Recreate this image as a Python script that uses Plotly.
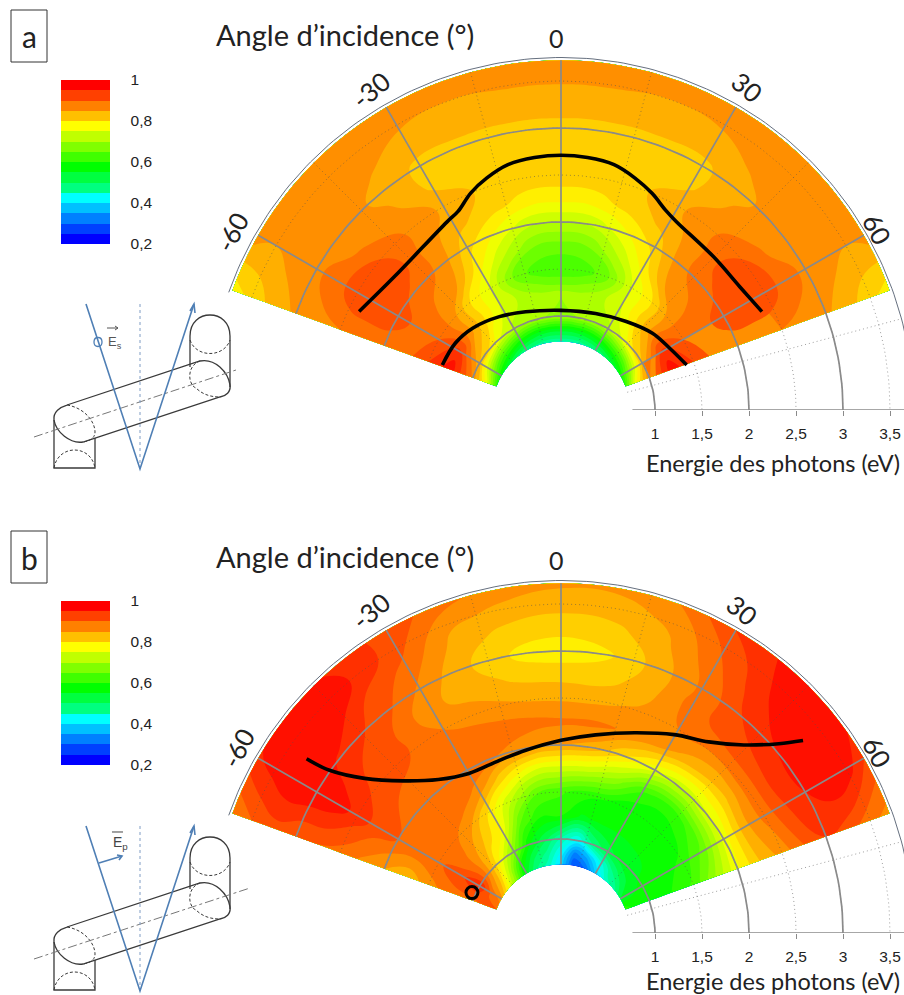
import numpy as np
import plotly.graph_objects as go

# ---------- data ----------
ENERGY = [0.73, 0.85, 1.0, 1.25, 1.5, 1.75, 2.0, 2.25, 2.5, 2.75, 3.0, 3.25, 3.5, 3.72]
ANGLE = [-70, -60, -50, -40, -30, -20, -10, 0, 10, 20, 30, 40, 50, 60, 70]

# rows follow ENERGY, columns follow ANGLE
Z_A = [
    [.62, .58, .55, .52, .50, .49, .48, .48, .48, .49, .50, .52, .55, .58, .62],
    [.77, .70, .65, .62, .59, .57, .56, .56, .56, .57, .59, .62, .65, .70, .77],
    [.87, .83, .80, .75, .72, .70, .70, .70, .70, .70, .72, .75, .80, .83, .87],
    [.965, .935, .86, .80, .745, .72, .705, .70, .705, .72, .745, .80, .86, .935, .965],
    [.925, .90, .865, .80, .75, .675, .635, .625, .635, .675, .75, .80, .865, .90, .925],
    [.89, .89, .875, .855, .785, .725, .675, .665, .675, .725, .785, .855, .875, .89, .89],
    [.885, .915, .89, .87, .81, .77, .73, .725, .73, .77, .81, .87, .89, .915, .885],
    [.88, .925, .915, .865, .835, .81, .79, .785, .79, .81, .835, .865, .915, .925, .88],
    [.875, .92, .90, .87, .845, .82, .815, .815, .815, .82, .845, .87, .90, .92, .875],
    [.87, .885, .87, .855, .82, .82, .82, .82, .82, .82, .82, .855, .87, .885, .87],
    [.855, .87, .87, .84, .82, .82, .82, .82, .82, .82, .82, .84, .87, .87, .855],
    [.835, .86, .875, .855, .835, .833, .832, .832, .832, .833, .835, .855, .875, .86, .835],
    [.81, .85, .875, .87, .855, .85, .853, .853, .853, .85, .855, .87, .875, .85, .81],
    [.785, .865, .875, .875, .87, .868, .868, .868, .868, .868, .87, .875, .875, .865, .785],
]
Z_B = [
    [.90, .86, .78, .68, .56, .50, .46, .39, .28, .30, .38, .46, .49, .55, .62],
    [.915, .89, .83, .72, .60, .53, .49, .42, .31, .36, .44, .50, .54, .57, .59],
    [.89, .95, .86, .77, .68, .58, .53, .47, .42, .50, .54, .56, .57, .58, .585],
    [.89, .915, .87, .82, .77, .65, .60, .60, .57, .58, .58, .58, .58, .585, .60],
    [.865, .895, .885, .855, .79, .72, .65, .63, .61, .60, .58, .58, .585, .61, .63],
    [.83, .895, .895, .895, .865, .80, .75, .74, .73, .70, .63, .61, .63, .66, .70],
    [.85, .90, .90, .90, .895, .875, .86, .85, .84, .80, .755, .73, .745, .76, .77],
    [.87, .915, .90, .90, .895, .89, .885, .88, .88, .87, .85, .825, .82, .84, .825],
    [.89, .94, .915, .90, .875, .86, .85, .845, .845, .855, .875, .875, .885, .885, .86],
    [.90, .965, .925, .90, .855, .84, .82, .815, .815, .84, .885, .915, .925, .925, .90],
    [.90, .975, .94, .915, .87, .83, .797, .785, .797, .835, .88, .925, .95, .95, .925],
    [.915, .975, .975, .925, .89, .84, .815, .81, .815, .845, .89, .94, .975, .975, .915],
    [.90, .96, .975, .95, .91, .855, .845, .835, .84, .855, .905, .95, .975, .965, .885],
    [.875, .945, .975, .94, .915, .885, .86, .855, .855, .875, .925, .955, .975, .925, .865],
]

CURVE_A1_ANGLE = [-64.0, -51.3, -31.2, -27.4, -22.6, -17.8, -12.2, -6, 0, 6, 12.2, 17.7, 22.8, 27.6, 31.5, 44.9, 55.4, 63.9]
CURVE_A1_E = [2.39, 2.27, 2.34, 2.38, 2.50, 2.59, 2.67, 2.70, 2.71, 2.70, 2.67, 2.59, 2.50, 2.40, 2.35, 2.30, 2.31, 2.38]
CURVE_A2_ANGLE = [-69.2, -57.6, -47, -33.4, -19.8, 0, 19.7, 36.4, 50, 60.4, 70.3]
CURVE_A2_E = [1.35, 1.33, 1.28, 1.19, 1.11, 1.06, 1.09, 1.17, 1.27, 1.33, 1.42]
CURVE_B_ANGLE = [-55.6, -54.9, -51.8, -46, -38.6, -30, -19.6, -10.9, 0, 9.9, 20.2, 29.7, 37.7, 44.2, 49, 51.5]
CURVE_B_E = [3.28, 3.01, 2.66, 2.33, 2.09, 1.96, 1.95, 1.98, 2.05, 2.14, 2.27, 2.43, 2.57, 2.79, 3.07, 3.29]
POINT_B_ANGLE = [-65.6]
POINT_B_E = [1.04]

BAR_TICKS = [0.2, 0.4, 0.6, 0.8, 1]
BAR_COLORS = ["#0000FF", "#0040FF", "#0080FF", "#00C0FF", "#00FFFF", "#00FF80", "#00FF40", "#00FF00",
              "#40FF00", "#80FF00", "#C0FF00", "#FFFF00", "#FFC000", "#FF8000", "#FF4000", "#FF0000"]
FILL_STOPS = [(.1875, "#0000FF"), (.21, "#0000FF"), (.42, "#00FFFF"), (.58, "#00FF00"),
              (.775, "#FFFF00"), (.975, "#FF0000"), (1.0125, "#FF0000")]
E_TICKS = [1, 1.5, 2, 2.5, 3, 3.5]
E_TICKTEXT = ["1", "1,5", "2", "2,5", "3", "3,5"]
ANGLE_LABELS = ["-60", "-30", "0", "30", "60"]

# ---------- page geometry ----------
W, H = 904, 995
PX_PER_EV = 94.0
CX = 561.0
CY_A, CY_B = 410.0, 933.0
TOP_B = 497.0
R_OUT = 3.75


def px(x, y):
    return x / W, 1 - y / H


def polar(angle, e):
    t = np.radians(np.asarray(angle, float))
    return np.asarray(e, float) * np.sin(t), np.asarray(e, float) * np.cos(t)


fig = go.Figure()
xr = [-CX / PX_PER_EV, (W - CX) / PX_PER_EV]
grid_a, grid_e = np.meshgrid(ANGLE, ENERGY)
GX, GY = polar(grid_a, grid_e)
fill_scale = [[(z - .1875) / .825, c] for z, c in FILL_STOPS]


def panel(idx, z, xa, ya):
    cid = "carpet" + idx
    fig.add_trace(go.Carpet(
        carpet=cid, a=ANGLE, b=ENERGY, x=GX.tolist(), y=GY.tolist(), xaxis=xa, yaxis=ya,
        aaxis=dict(showgrid=False, showticklabels="none", startline=False, endline=False, minorgridcount=0, smoothing=1),
        baxis=dict(showgrid=False, showticklabels="none", startline=False, endline=False, minorgridcount=0, smoothing=1),
    ))
    fig.add_trace(go.Contourcarpet(
        carpet=cid, a=ANGLE, b=ENERGY, z=z, xaxis=xa, yaxis=ya,
        autocontour=False, contours=dict(start=.2, end=1, size=.025, coloring="fill", showlines=False),
        line=dict(width=0, smoothing=1.3), colorscale=fill_scale, showscale=False,
    ))

    def line(x, y, **kw):
        fig.add_trace(go.Scatter(x=x, y=y, mode="lines", xaxis=xa, yaxis=ya, showlegend=False,
                                 hoverinfo="skip", line=kw))
    # dotted grid
    dot = dict(color="rgba(80,80,80,.55)", width=1, dash="1px,3px")
    for e in [1.5, 2.5, 3.5, 1, 2, 3]:
        th = np.linspace(-70, 90, 120)
        line(*polar(th, np.full_like(th, e)), **dot)
    for a in [-45, -15, 15, 45, 75]:
        line(*polar([a, a], [.73, 3.72]), **dot)
    # solid grid
    grey = dict(color="#8a8a8a", width=1.7)
    for e in [1, 2, 3]:
        th = np.linspace(-70, 90, 120)
        line(*polar(th, np.full_like(th, e)), **grey)
    for a in [-60, -30, 0, 30, 60]:
        line(*polar([a, a], [.73, 3.72]), **grey)
    th = np.linspace(-70.5, 90, 160)
    line(*polar(th, np.full_like(th, R_OUT)), color="#66707f", width=1)
    line([.76, xr[1]], [0, 0], color="#8a8a8a", width=1.7)


panel("a", Z_A, "x", "y")
panel("b", Z_B, "x2", "y2")

for ang, e, xa, ya in [(CURVE_A1_ANGLE, CURVE_A1_E, "x", "y"), (CURVE_A2_ANGLE, CURVE_A2_E, "x", "y"),
                       (CURVE_B_ANGLE, CURVE_B_E, "x2", "y2")]:
    x, y = polar(ang, e)
    fig.add_trace(go.Scatter(x=x, y=y, mode="lines", xaxis=xa, yaxis=ya, showlegend=False, hoverinfo="skip",
                             line=dict(color="black", width=3.6, shape="spline", smoothing=1)))
x, y = polar(POINT_B_ANGLE, POINT_B_E)
fig.add_trace(go.Scatter(x=x, y=y, mode="markers", xaxis="x2", yaxis="y2", showlegend=False, hoverinfo="skip",
                         marker=dict(symbol="circle-open", size=12, color="black", line=dict(width=3, color="black"))))

# colour bars
n = len(BAR_COLORS)
bar_scale = []
for i, c in enumerate(BAR_COLORS):
    bar_scale += [[i / n, c], [(i + 1) / n, c]]
for top in (80, 601):
    fig.add_trace(go.Scatter(
        x=[-50], y=[-50], mode="markers", showlegend=False, hoverinfo="skip",
        marker=dict(color=[.6], cmin=.2, cmax=1, colorscale=bar_scale, showscale=True, colorbar=dict(
            x=61 / W, xanchor="left", xpad=0, y=1 - top / H, yanchor="top", ypad=0,
            lenmode="fraction", len=164 / H, thickness=49, thicknessmode="pixels", outlinewidth=0,
            tickmode="array", tickvals=BAR_TICKS, ticks="outside", ticklen=18, tickcolor="rgba(0,0,0,0)",
            tickfont=dict(family="Liberation Sans", size=15.5, color="#222222"))),
    ))

# ---------- schematic and page text ----------
shapes, ann = [], []
INK, BLUE = "#3a3a3a", "#4f7fb5"
HID = "3px,2px"


def path(pts_str, color=INK, width=1.3, dash="solid", dy=0, dx=0):
    out = []
    for t in pts_str.split():
        if t.isalpha():
            out.append(t)
        else:
            xs, ys = t.split(",")
            X, Y = px(float(xs) + dx, float(ys) + dy)
            out.append(f"{X:.5f},{Y:.5f}")
    shapes.append(dict(type="path", path=" ".join(out), xref="paper", yref="paper",
                       line=dict(color=color, width=width, dash=dash), layer="above"))


def text(x, y, s, size, family="Lato", angle=0, color="#222222", xanchor="center"):
    X, Y = px(x, y)
    ann.append(dict(x=X, y=Y, xref="paper", yref="paper", text=s, showarrow=False, textangle=angle,
                    xanchor=xanchor, yanchor="middle", font=dict(family=family, size=size, color=color)))


def schematic(dy, axis_end):
    d = dict(dy=dy)
    # right column
    path("M 190,367 L 190,336 C 190,322 200,315 210,315 C 220,315 230,322 230,336 L 230,387", **d)
    path("M 190,340 C 196,358 224,358 230,340", dash=HID, width=1, **d)
    # tube
    path("M 67,405 L 200,361 C 215,358 228,372 230,385 C 231,392 226,396 220,397 L 83,442 C 70,444 56,432 54,420 C 53,412 60,407 67,405", **d)
    path("M 200,361 C 186,366 188,385 196,388 C 204,396 214,397 220,397", dash=HID, width=1, **d)
    path("M 67,405 C 85,408 95,422 95,432 C 95,438 90,441 83,442", dash=HID, width=1, **d)
    # left column
    path("M 54,420 L 54,468 L 95,468 L 95,438", **d)
    path("M 54,468 C 58,444 91,444 95,468", dash=HID, width=1, **d)
    # axis
    path(f"M 34,437 L {axis_end[0]},{axis_end[1]}", dash="dashdot", width=1, color="#777777", **d)
    # rays
    path("M 140,304 L 140,469", color="#7f9cc4", dash="dot", width=1, **d)
    path("M 86,304 L 140,469 L 194,304", color=BLUE, width=1.6, **d)
    path("M 190,311 L 194,304 L 195,313", color=BLUE, width=1.6, **d)


schematic(0, (236, 370))
schematic(522, (250, 366))
# polarisation marks
path("M 102,342 C 102,336 94,336 94,342 C 94,348 102,348 102,342", color=BLUE, width=1.3)
path("M 107,328 L 118,328", color="#555555", width=1)
path("M 115,326 L 118,328 L 115,330", color="#555555", width=1)
text(115, 342, "E<sub>s</sub>", 13, family="Liberation Sans", color="#555555")
path("M 99,863 L 122,856", color=BLUE, width=1.6)
path("M 117,855 L 122,856 L 119,860", color=BLUE, width=1.6)
path("M 112,832 L 123,832", color="#444444", width=1)
text(120, 843, "E<sub>p</sub>", 14, family="Liberation Sans", color="#444444")

for (by0, by1, label, ty) in [(10, 62, "a", 36), (531, 583, "b", 558)]:
    shapes.append(dict(type="rect", x0=11 / W, x1=47 / W, y0=1 - by0 / H, y1=1 - by1 / H, xref="paper", yref="paper",
                       line=dict(color="#333333", width=1), layer="above"))
    text(29, ty, label, 30)

for t_y, e_y in [(0, 0), (522, 518)]:
    text(214, 34 + t_y, "Angle d’incidence (°)", 29, xanchor="left")
    text(556, 38 + t_y, ANGLE_LABELS[2], 25)
    text(773, 463 + e_y, "Energie des photons (eV)", 23.5)
text(371, 90, ANGLE_LABELS[1], 26, angle=-40)
text(747, 87, ANGLE_LABELS[3], 26, angle=40)
text(232, 232, ANGLE_LABELS[0], 26, angle=-62)
text(877, 229, ANGLE_LABELS[4], 26, angle=62)
text(371, 611, ANGLE_LABELS[1], 26, angle=-40)
text(742, 610, ANGLE_LABELS[3], 26, angle=40)
text(238, 748, ANGLE_LABELS[0], 26, angle=-62)
text(877, 752, ANGLE_LABELS[4], 26, angle=62)

ax_common = dict(range=xr, showgrid=False, zeroline=False, showline=False, tickmode="array",
                 tickvals=E_TICKS, ticktext=E_TICKTEXT, ticks="outside", ticklen=5, tickcolor="#8a8a8a",
                 tickfont=dict(family="Liberation Sans", size=15.5, color="#222222"), ticklabelstandoff=4)
ay_common = dict(showgrid=False, zeroline=False, showline=False, showticklabels=False, ticks="")
fig.update_layout(
    width=W, height=H, autosize=False, margin=dict(l=0, r=0, t=0, b=0), paper_bgcolor="white", plot_bgcolor="rgba(0,0,0,0)",
    separators=", ", showlegend=False, shapes=shapes, annotations=ann,
    xaxis=dict(domain=[0, 1], anchor="y", **ax_common),
    yaxis=dict(domain=[1 - CY_A / H, 1], range=[0, CY_A / PX_PER_EV], anchor="x", **ay_common),
    xaxis2=dict(domain=[0, 1], anchor="y2", **ax_common),
    yaxis2=dict(domain=[1 - CY_B / H, 1 - TOP_B / H], range=[0, (CY_B - TOP_B) / PX_PER_EV], anchor="x2", **ay_common),
)
fig.write_html("out.html", post_script="document.body.style.margin='0';document.body.style.overflow='hidden';",
               config=dict(displayModeBar=False))
